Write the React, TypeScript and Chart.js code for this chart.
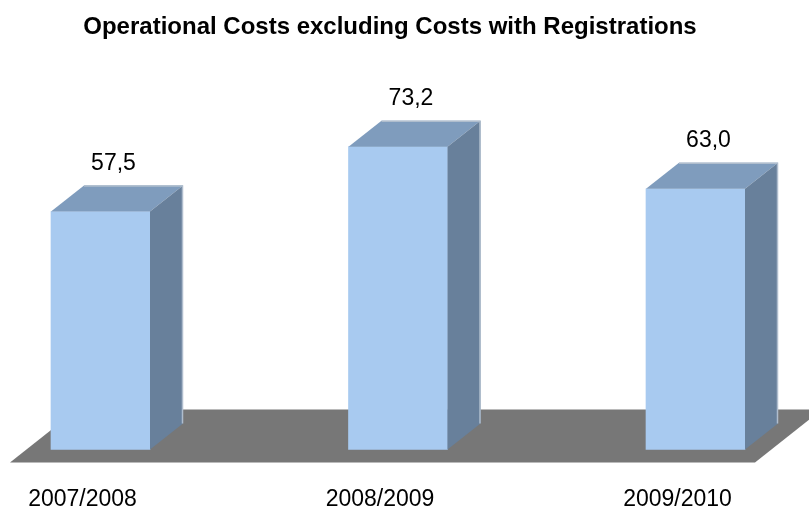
import React, { useEffect, useRef } from "react";
import { Chart, registerables } from "chart.js";

Chart.register(...registerables);

const categories: string[] = ["2007/2008", "2008/2009", "2009/2010"];
const costs: number[] = [57.5, 73.2, 63.0];
const valueLabels: string[] = ["57,5", "73,2", "63,0"];
const chartTitle = "Operational Costs excluding Costs with Registrations";

const FRONT = "#a8caf0";
const TOP = "#7f9cbd";
const SIDE = "#68809b";
const EDGE = "#afbdcd";
const FLOOR = "#777777";
const DX = 33;
const DY = 26;

const threeD = {
  id: "threeD",
  afterLayout(chart: any) {
    const tb = chart.titleBlock;
    if (tb) {
      tb.left = 0;
      tb.right = 780;
      tb.width = 780;
    }
  },
  beforeDatasetsDraw(chart: any) {
    const { ctx } = chart;
    const xs = chart.scales.x;
    const y0 = chart.scales.y.getPixelForValue(0);
    const fl = xs.getPixelForValue(0) - 90.5;
    const fr = xs.getPixelForValue(categories.length - 1) + 59.5;
    const front = y0 + 13;
    const back = y0 - 40;
    const fdx = 67;
    ctx.save();
    ctx.fillStyle = FLOOR;
    ctx.beginPath();
    ctx.moveTo(fl, front);
    ctx.lineTo(fr, front);
    ctx.lineTo(fr + fdx, back);
    ctx.lineTo(fl + fdx, back);
    ctx.closePath();
    ctx.fill();
    ctx.restore();
  },
  afterDatasetsDraw(chart: any) {
    const { ctx } = chart;
    const meta = chart.getDatasetMeta(0);
    ctx.save();
    meta.data.forEach((bar: any, i: number) => {
      const { x, y, base, width } = bar.getProps(["x", "y", "base", "width"], true);
      const l = x - width / 2;
      const r = x + width / 2;
      // top face
      ctx.fillStyle = TOP;
      ctx.beginPath();
      ctx.moveTo(l, y);
      ctx.lineTo(r, y);
      ctx.lineTo(r + DX, y - DY);
      ctx.lineTo(l + DX, y - DY);
      ctx.closePath();
      ctx.fill();
      // side face
      ctx.fillStyle = SIDE;
      ctx.beginPath();
      ctx.moveTo(r, y);
      ctx.lineTo(r + DX, y - DY);
      ctx.lineTo(r + DX, base - DY);
      ctx.lineTo(r, base);
      ctx.closePath();
      ctx.fill();
      // light back edges
      ctx.strokeStyle = EDGE;
      ctx.lineWidth = 1.5;
      ctx.beginPath();
      ctx.moveTo(l + DX, y - DY + 0.5);
      ctx.lineTo(r + DX - 0.5, y - DY + 0.5);
      ctx.lineTo(r + DX - 0.5, base - DY);
      ctx.stroke();
      // value label
      ctx.fillStyle = "#000000";
      ctx.font = "23px 'Liberation Sans', Arial, sans-serif";
      ctx.textAlign = "center";
      ctx.textBaseline = "middle";
      ctx.fillText(valueLabels[i], x + 13, y - 48);
    });
    ctx.restore();
  },
};

export default function App() {
  const ref = useRef<HTMLCanvasElement | null>(null);
  useEffect(() => {
    document.body.style.margin = "0";
    const canvas = ref.current;
    if (!canvas) return;
    const chart = new Chart(canvas, {
      type: "bar",
      data: {
        labels: categories,
        datasets: [
          {
            data: costs,
            backgroundColor: FRONT,
            borderWidth: 0,
            barThickness: 99,
            clip: false as any,
          },
        ],
      },
      options: {
        responsive: false,
        animation: false,
        devicePixelRatio: 1,
        layout: { padding: { left: 100.5, right: 113.5, top: 0, bottom: 0 } },
        plugins: {
          legend: { display: false },
          tooltip: { enabled: false },
          title: {
            display: true,
            text: chartTitle,
            color: "#000000",
            font: { family: "'Liberation Sans', Arial, sans-serif", size: 24, weight: "bold" },
            padding: { top: 13, bottom: 76.7 },
          },
        },
        scales: {
          x: {
            offset: false,
            grid: { display: false, drawTicks: false },
            border: { display: false },
            ticks: {
              color: "#000000",
              font: { family: "'Liberation Sans', Arial, sans-serif", size: 23 },
              padding: 36,
              labelOffset: -18,
              maxRotation: 0,
              autoSkip: false,
            },
            afterFit(scale: any) {
              scale.height = 61.5;
            },
          },
          y: {
            display: false,
            min: 0,
            max: 80,
          },
        },
      },
      plugins: [threeD],
    });
    return () => chart.destroy();
  }, []);
  return (
    <div style={{ width: 809, height: 511 }}>
      <canvas ref={ref} width={809} height={511} />
    </div>
  );
}
